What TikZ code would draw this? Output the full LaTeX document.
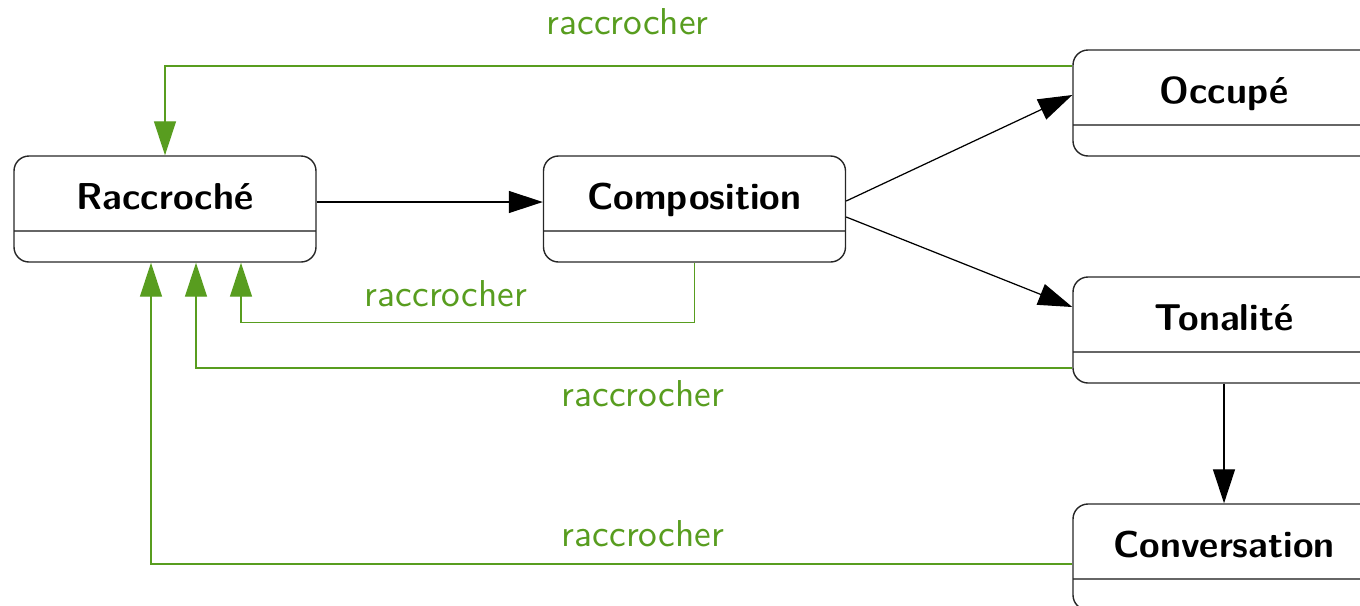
\documentclass[tikz,border=0pt]{standalone}
\usetikzlibrary{arrows.meta}

\definecolor{vert}{RGB}{88,157,31}

\tikzset{
  etat/.style={draw=black!85, line width=0.4pt, rounded corners=0.15cm,
    minimum width=3.02cm, minimum height=1.06cm, inner sep=0pt,
    text height=0.9em, text depth=0.9em,
    font=\fontsize{10.65}{13}\selectfont\sffamily\bfseries,
    path picture={\draw[black!60] ([yshift=-0.22cm]path picture bounding box.west)
      -- ([yshift=-0.22cm]path picture bounding box.east);}},
  trans/.style={line width=0.35pt, -{Triangle[length=0.34cm, width=0.22cm]}},
  retour/.style={vert, line width=0.35pt, -{Triangle[length=0.34cm, width=0.22cm]}},
  etiq/.style={font=\fontsize{10.65}{13}\selectfont\sffamily, text=vert}
}

\begin{document}
\begin{tikzpicture}

\useasboundingbox (0,0) rectangle (13.6,6.05);

% states
\node[etat] (raccroche) at (1.65, 3.96) {Raccroché};
\node[etat] (compo) at (6.945, 3.96) {Composition};
\node[etat] (occupe) at (12.24, 5.02) {Occupé};
\node[etat] (tonalite) at (12.24, 2.75) {Tonalité};
\node[etat] (conv) at (12.24, 0.48) {Conversation};

% black transitions
\draw[trans] ([yshift=0.07cm]raccroche.east) -- ([yshift=0.07cm]compo.west);
\draw[trans] ([yshift=0.08cm]compo.east) -- ([yshift=0.08cm]occupe.west);
\draw[trans] ([yshift=-0.08cm]compo.east) -- ([yshift=0.23cm]tonalite.west);
\draw[trans] (tonalite.south) -- (conv.north);

% green: raccrocher
\draw[retour] ([yshift=0.37cm]occupe.west) -| node[etiq, pos=0.245, above=0.19cm]{raccrocher} (raccroche.north);

\draw[retour] (compo.south) -- ++(0,-0.6) -| node[etiq, pos=0.274, above=0.03cm]{raccrocher} ([xshift=0.76cm]raccroche.south);

\draw[retour] ([yshift=-0.38cm]tonalite.west) -| node[etiq, pos=0.245, below=0cm]{raccrocher} ([xshift=0.31cm]raccroche.south);

\draw[retour] ([yshift=-0.07cm]conv.west) -| node[etiq, pos=0.233, above=0.05cm]{raccrocher} ([xshift=-0.14cm]raccroche.south);

\end{tikzpicture}
\end{document}
